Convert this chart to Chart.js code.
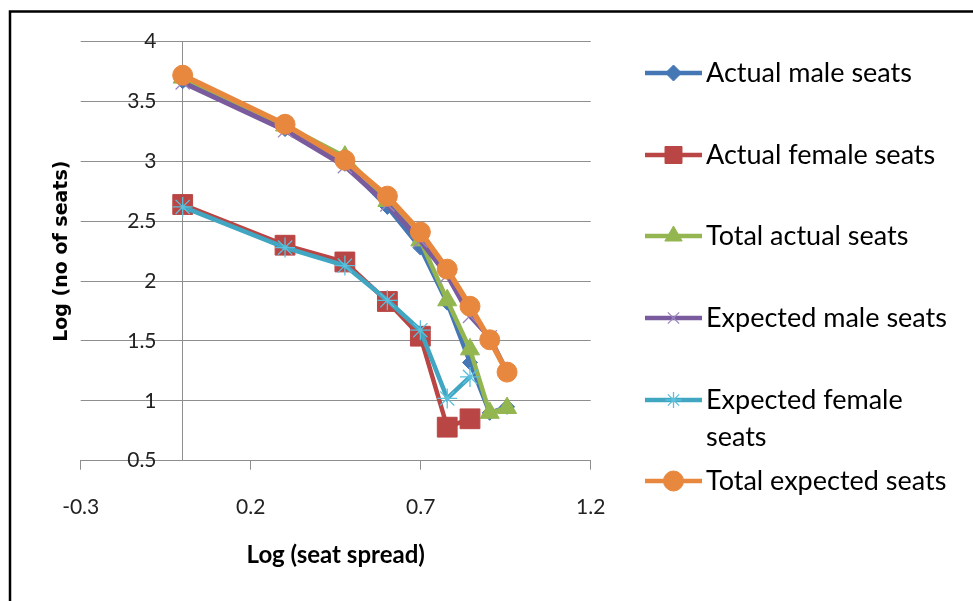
<!DOCTYPE html>
<html>
<head>
<meta charset="utf-8">
<script src="https://cdn.jsdelivr.net/npm/chart.js@4/dist/chart.umd.min.js"></script>
<style>
  html, body { margin: 0; padding: 0; background: #fff; }
  #wrap { width: 973px; height: 601px; position: relative; }
</style>
</head>
<body>
<div id="wrap"><canvas id="c" width="973" height="601"></canvas></div>
<script>
// ---- data ----
const seatSpreadLog = [0, 0.301, 0.477, 0.602, 0.699, 0.778, 0.845, 0.903, 0.954];
const actualMale     = [3.67, 3.27, 2.98, 2.62, 2.28, 1.82, 1.32, 0.90, 0.95];
const actualFemale   = [2.64, 2.30, 2.16, 1.83, 1.54, 0.78, 0.85];
const totalActual    = [3.70, 3.30, 3.04, 2.67, 2.34, 1.84, 1.43, 0.90, 0.94];
const expectedMale   = [3.66, 3.26, 2.96, 2.64, 2.34, 2.05, 1.71, 1.53, 1.24];
const expectedFemale = [2.62, 2.28, 2.13, 1.84, 1.59, 1.02, 1.20];
const totalExpected  = [3.72, 3.31, 3.01, 2.71, 2.41, 2.10, 1.79, 1.51, 1.24];
const seriesNames = ['Actual male seats', 'Actual female seats', 'Total actual seats',
                     'Expected male seats', 'Expected female seats', 'Total expected seats'];
const xTicks = [-0.3, 0.2, 0.7, 1.2];
const xTickLabels = ['-0.3', '0.2', '0.7', '1.2'];
const yTicks = [0.5, 1, 1.5, 2, 2.5, 3, 3.5, 4];
const yTickLabels = ['0.5', '1', '1.5', '2', '2.5', '3', '3.5', '4'];
const yAxisCrossX = 0;          // vertical axis crosses the x axis at 0
const yLabelAnchorX = -0.077;   // where the y tick labels are right-aligned
const xTitle = 'Log (seat spread)';
const yTitle = 'Log (no of seats)';

function pts(ys) { return ys.map((y, i) => ({ x: seatSpreadLog[i], y: y })); }

Chart.defaults.font.family = 'Lato';

const styles = [
  { color: '#4577B5', pointStyle: 'rectRot',  radius: 7.5, bw: 1,   lw: 4.5, order: 6 },
  { color: '#B94644', pointStyle: 'rect',     radius: 14,  bw: 1,   lw: 4.5, order: 5 },
  { color: '#93B650', pointStyle: 'triangle', radius: 11,  bw: 1,   lw: 4.5, order: 4 },
  { color: '#7A5C9E', pointStyle: 'crossRot', radius: 10,  bw: 1.3, lw: 5,   order: 3, pcolor: '#9C86C0' },
  { color: '#40A6C2', pointStyle: 'star',     radius: 10,  bw: 1.3, lw: 4.5, order: 2, pcolor: '#5BC0DC' },
  { color: '#E8883F', pointStyle: 'circle',   radius: 10,  bw: 1,   lw: 5.5, order: 1 }
];
const seriesValues = [actualMale, actualFemale, totalActual, expectedMale, expectedFemale, totalExpected];

const datasets = seriesValues.map((vals, i) => {
  const s = styles[i];
  return {
    label: seriesNames[i],
    data: pts(vals),
    borderColor: s.color,
    backgroundColor: s.pcolor || s.color,
    pointBackgroundColor: s.pcolor || s.color,
    pointBorderColor: s.pcolor || s.color,
    pointBorderWidth: s.bw,
    pointStyle: s.pointStyle,
    pointRadius: s.radius,
    pointHoverRadius: s.radius,
    borderWidth: s.lw,
    tension: 0,
    showLine: true,
    fill: false,
    order: s.order,
    _s: s
  };
});

const framePlugin = {
  id: 'frame',
  beforeDraw(chart) {
    const ctx = chart.ctx;
    ctx.save();
    ctx.fillStyle = '#fff';
    ctx.fillRect(0, 0, chart.width, chart.height);
    ctx.strokeStyle = '#000';
    ctx.lineWidth = 2.5;
    ctx.strokeRect(10, 11.5, 1100, 800);
    ctx.restore();
  }
};

const yTitlePlugin = {
  id: 'ytitle',
  afterDraw(chart) {
    const ctx = chart.ctx;
    const a = chart.chartArea;
    ctx.save();
    ctx.translate(62, (a.top + a.bottom) / 2);
    ctx.rotate(-Math.PI / 2);
    ctx.font = 'bold 19px "DejaVu Sans"';
    ctx.fillStyle = '#000';
    ctx.textAlign = 'center';
    ctx.textBaseline = 'middle';
    ctx.fillText(yTitle, 0, 0);
    ctx.restore();
  }
};

const legendPlugin = {
  id: 'customLegend',
  afterDraw(chart) {
    const ctx = chart.ctx;
    const rows = [73, 155, 236, 318, 400, 481];
    const x0 = 645, x1 = 702, tx = 706, maxW = 250, lh = 37;
    ctx.save();
    chart.data.datasets.forEach((ds, i) => {
      const s = ds._s;
      const y = rows[i];
      ctx.strokeStyle = s.color;
      ctx.lineWidth = 4.5;
      ctx.lineCap = 'butt';
      ctx.beginPath();
      ctx.moveTo(x0, y);
      ctx.lineTo(x1, y);
      ctx.stroke();
      ctx.fillStyle = s.pcolor || s.color;
      ctx.strokeStyle = s.pcolor || s.color;
      ctx.lineWidth = s.bw;
      const r = s.pointStyle === 'rect' ? 12 : (s.pointStyle === 'triangle' ? 10 : (s.pointStyle === 'circle' ? 10 : 8));
      Chart.helpers.drawPoint(ctx, { pointStyle: s.pointStyle, radius: r, rotation: 0, borderWidth: s.bw }, (x0 + x1) / 2, y);
      ctx.font = '27px Lato';
      ctx.fillStyle = '#000';
      ctx.textAlign = 'left';
      ctx.textBaseline = 'middle';
      const words = ds.label.split(' ');
      const lines = [];
      let cur = '';
      words.forEach(w => {
        const t = cur ? cur + ' ' + w : w;
        if (ctx.measureText(t).width > maxW && cur) { lines.push(cur); cur = w; }
        else cur = t;
      });
      lines.push(cur);
      lines.forEach((ln, k) => ctx.fillText(ln, tx, y + k * lh));
    });
    ctx.restore();
  }
};

new Chart(document.getElementById('c'), {
  type: 'scatter',
  data: { datasets: datasets },
  options: {
    responsive: false,
    animation: false,
    layout: { padding: { top: 41.7, left: 80.7, right: 382.3, bottom: 0 } },
    plugins: { legend: { display: false }, tooltip: { enabled: false } },
    scales: {
      x: {
        type: 'linear',
        position: 'bottom',
        min: -0.3, max: 1.2,
        afterBuildTicks(scale) { scale.ticks = xTicks.map(v => ({ value: v })); },
        afterFit(scale) { scale.height = 140.3; },
        grid: { drawOnChartArea: false, drawTicks: true, tickLength: 9, color: '#8E8E8E', lineWidth: 1 },
        border: { display: true, color: '#8E8E8E', width: 1 },
        ticks: {
          font: { size: 21 }, color: '#222', padding: 25, maxRotation: 0,
          callback: (v, i) => xTickLabels[i]
        },
        title: { display: true, text: xTitle, font: { size: 24, weight: 'bold' }, color: '#000', padding: { top: 0, bottom: 31 } }
      },
      xCross: {
        type: 'linear',
        axis: 'x',
        position: { y: 0.5 },
        min: -0.3, max: 1.2,
        afterBuildTicks(scale) { scale.ticks = [{ value: yAxisCrossX }]; },
        grid: { drawOnChartArea: true, drawTicks: false, color: '#8E8E8E', lineWidth: 1 },
        border: { display: false },
        ticks: { display: false }
      },
      y: {
        type: 'linear',
        position: { x: yLabelAnchorX },
        min: 0.5, max: 4,
        afterBuildTicks(scale) { scale.ticks = yTicks.map(v => ({ value: v })); },
        grid: { drawTicks: false, color: '#8E8E8E', lineWidth: 1 },
        border: { display: false },
        ticks: {
          font: { size: 21 }, color: '#222', padding: 0,
          callback: (v, i) => yTickLabels[i]
        }
      }
    }
  },
  plugins: [framePlugin, yTitlePlugin, legendPlugin]
});
</script>
</body>
</html>
